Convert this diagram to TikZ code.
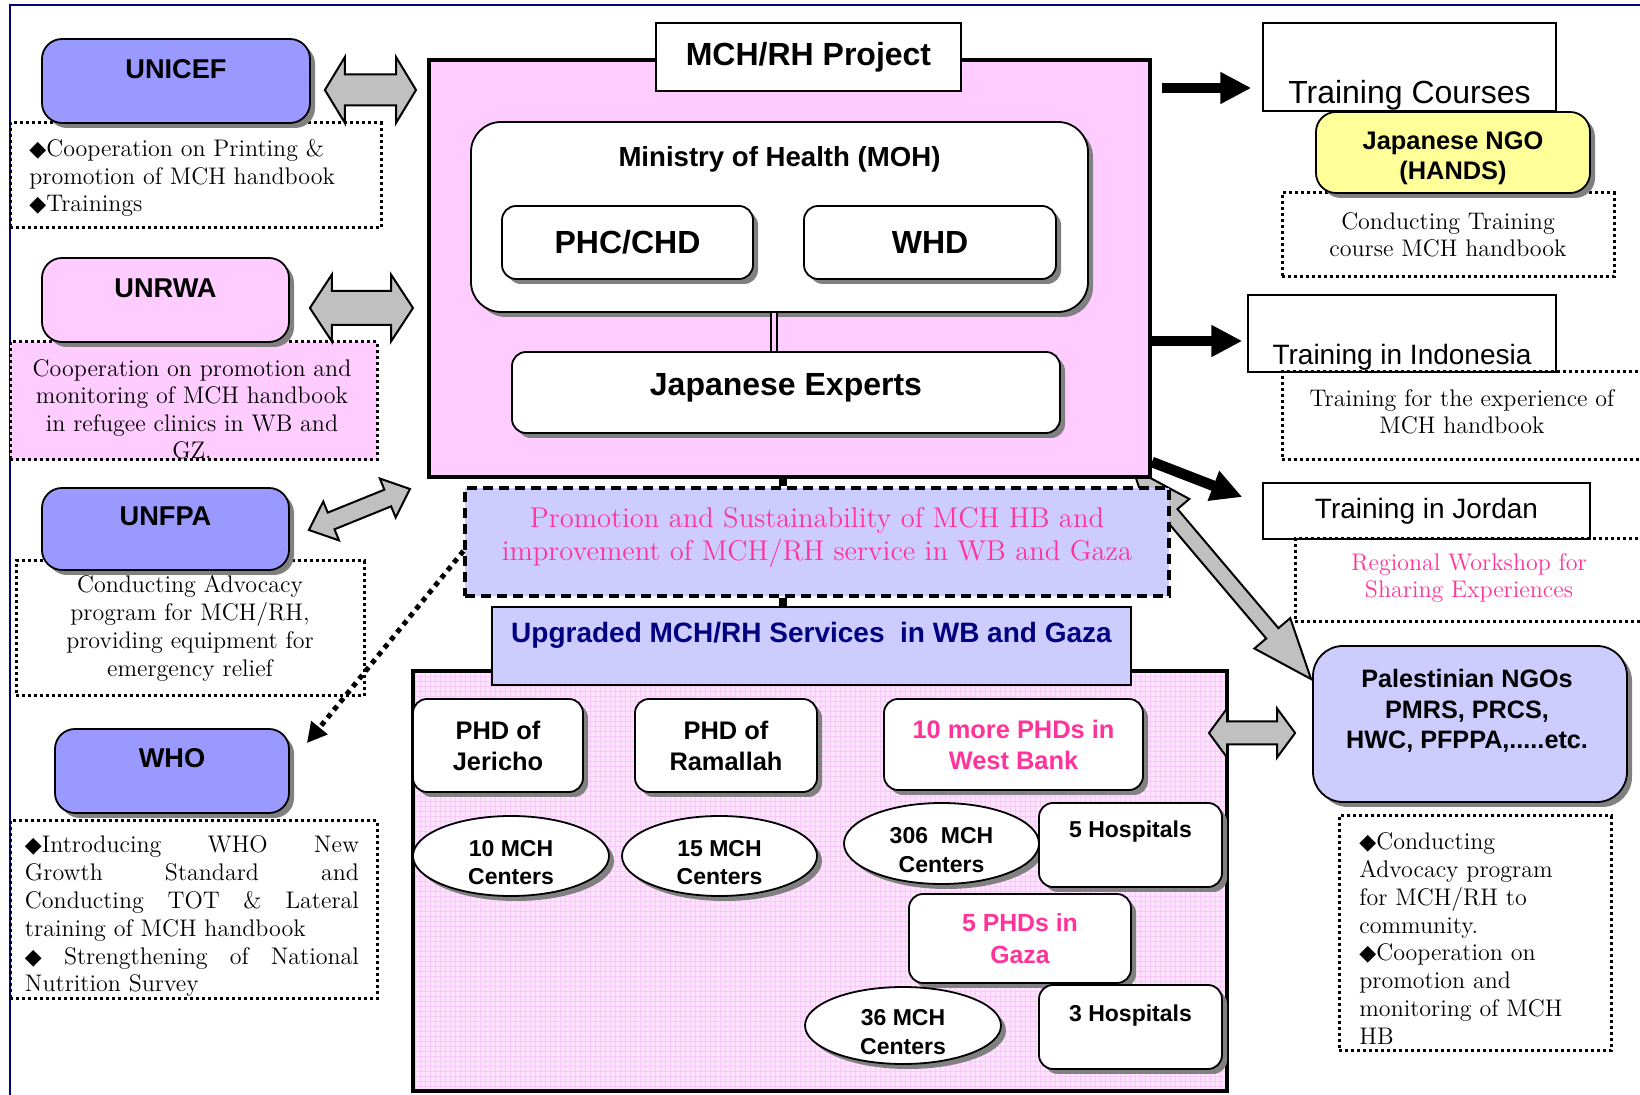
\documentclass[tikz,border=0pt]{standalone}
\usepackage{fontspec}
\newfontfamily\arial{Liberation Sans}
\newfontfamily\dejavu{DejaVu Sans}
\usetikzlibrary{positioning,calc,shadows,shapes.geometric,arrows.meta}
\definecolor{unblue}{RGB}{153,153,255}
\definecolor{unpink}{RGB}{255,204,255}
\definecolor{lilac}{RGB}{204,204,255}
\definecolor{ngoyellow}{RGB}{255,255,153}
\definecolor{hotpink}{RGB}{255,51,153}
\definecolor{navyblue}{RGB}{0,0,128}
\definecolor{gridpink}{RGB}{255,228,255}
\definecolor{gridline}{RGB}{248,200,248}
\definecolor{arrowgray}{RGB}{192,192,192}
\pgfdeclarelayer{back}
\pgfsetlayers{back,main}
\newcommand{\fsz}[2]{\fontsize{#1}{#2}\selectfont}
\newcommand{\dmd}{{\dejavu\fsz{11}{11}◆}}
% fat two-headed arrow: from, to, shaft half width, head half width, head length
\newcommand{\blockarrow}[5]{%
  \coordinate (bx1) at ($(#1)!#5!(#2)$);
  \coordinate (bx2) at ($(#2)!#5!(#1)$);
  \draw[fatgray] (#1) -- ($(bx1)!#4!-90:(#2)$) -- ($(bx1)!#3!-90:(#2)$)
    -- ($(bx2)!#3!90:(#1)$) -- ($(bx2)!#4!90:(#1)$) -- (#2)
    -- ($(bx2)!#4!-90:(#1)$) -- ($(bx2)!#3!-90:(#1)$)
    -- ($(bx1)!#3!90:(#2)$) -- ($(bx1)!#4!90:(#2)$) -- cycle;}
\tikzset{
  shadowed/.style={drop shadow={shadow xshift=2.5pt,shadow yshift=-2.5pt,fill=black!50,opacity=1}},
  orgbox/.style={draw, line width=0.9pt, rounded corners=10pt, inner sep=0pt, shadowed},
  unitbox/.style={draw, line width=0.9pt, rounded corners=7pt, fill=white, inner sep=0pt, align=center, shadowed},
  centre/.style={ellipse, draw, line width=0.9pt, fill=white, inner sep=0pt, shadowed},
  centrefont/.style={align=center, inner sep=0pt, font=\arial\bfseries\fsz{11.5}{14.2}},
  note/.style={draw, line width=1.5pt, dash pattern=on 1.5pt off 1.5pt, inner sep=0pt},
  plainbox/.style={draw, line width=0.7pt, fill=white, inner sep=0pt},
  notetext/.style={font=\fsz{12}{13.7}, align=center, inner sep=0pt},
  heading/.style={font=\arial\bfseries\fsz{13.6}{16}, inner sep=0pt},
  bigsans/.style={font=\arial\bfseries\fsz{16}{19}, inner sep=0pt},
  unitfont/.style={font=\arial\bfseries\fsz{12.7}{15.5}},
  smallsans/.style={font=\arial\bfseries\fsz{11.5}{14}, inner sep=0pt},
  trainfont/.style={font=\arial\fsz{#1}{#1}, inner sep=0pt},
  blackarrow/.style={line width=5.3pt, -{Triangle[length=15.5pt,width=15pt]}},
  dotarrow/.style={line width=2.5pt, dash pattern=on 2.5pt off 2.5pt, -{Triangle[length=10pt,width=10pt]}},
  fatgray/.style={draw, line width=1pt, fill=arrowgray, line join=miter},
  stem/.style={line width=4pt},
  svcgrid/.style={path picture={\draw[gridline, line width=0.25pt, step=2.5pt] (path picture bounding box.south west) grid (path picture bounding box.north east);}}
}

\begin{document}
\begin{tikzpicture}[x=0.5pt,y=0.5pt]
\useasboundingbox (0,0) rectangle (1640,-1095);
\clip (0,0) rectangle (1640,-1095);
\draw[navyblue, line width=0.8pt] (10,-1095) -- (10,-5) -- (1640,-5);

% partners on the left
\node[note, minimum width=185.5pt, minimum height=52.5pt] (unicefnote) at (195.5,-175.5) {};
\node[notetext, align=left, anchor=west] (unicefnotetext) at (29,-178) {\dmd Cooperation on Printing \&\\promotion of MCH handbook\\\dmd Trainings};
\node[orgbox, fill=unblue, minimum width=134pt, minimum height=42pt] (unicef) at (176,-81) {};
\node[heading] (uniceftext) at ([yshift=-15.5pt]unicef.north) {UNICEF};

\node[note, fill=unpink, minimum width=183.5pt, minimum height=59pt] (unrwanote) at (193.5,-401) {};
\node[notetext] (unrwanotetext) at (192,-409.5) {Cooperation on promotion and\\monitoring of MCH handbook\\in refugee clinics in WB and\\GZ.};
\node[orgbox, fill=unpink, minimum width=123.5pt, minimum height=42pt] (unrwa) at (165.5,-300) {};
\node[heading] (unrwatext) at ([yshift=-15.5pt]unrwa.north) {UNRWA};

\node[note, notetext, font=\fsz{12}{14.1}, minimum width=174pt, minimum height=67.5pt] (unfpanote) at (190,-628.5) {Conducting Advocacy\\program for MCH/RH,\\providing equipment for\\emergency relief};
\node[orgbox, fill=unblue, minimum width=123.5pt, minimum height=41pt] (unfpa) at (165.5,-529) {};
\node[heading] (unfpatext) at ([yshift=-14.5pt]unfpa.north) {UNFPA};

\node[note, minimum width=183.5pt, minimum height=89pt] (whonote) at (193.5,-910) {};
\node[notetext, align=left, font=\fsz{12}{13.9}] (whonotetext) at (192,-916.5) {\makebox[167pt][s]{\dmd Introducing WHO New}\\\makebox[167pt][s]{Growth Standard and}\\\makebox[167pt][s]{Conducting TOT \& Lateral}\\training of MCH handbook\\\makebox[167pt][s]{\dmd\ Strengthening of National}\\Nutrition Survey};
\node[orgbox, fill=unblue, minimum width=117pt, minimum height=42pt] (who) at (172,-771) {};
\node[heading] (whotext) at ([yshift=-15pt]who.north) {WHO};

% project box
\node[draw, line width=2pt, fill=unpink, minimum width=360.5pt, minimum height=208.5pt] (mch) at (789.5,-268.5) {};
\node[plainbox, bigsans, minimum width=152.5pt, minimum height=34pt] (mchtitle) at (808.5,-57) {MCH/RH Project};
\node[orgbox, fill=white, rounded corners=15pt, minimum width=308.5pt, minimum height=95pt] (moh) at (779.5,-217) {};
\node[font=\arial\bfseries\fsz{13.8}{16}, inner sep=0pt] (mohtext) at ([yshift=-19pt]moh.north) {Ministry of Health (MOH)};
\node[unitbox, bigsans, minimum width=125.5pt, minimum height=36.5pt] (phc) at (627.5,-242.5) {PHC/CHD};
\node[unitbox, bigsans, minimum width=126pt, minimum height=36.5pt] (whd) at (930,-242.5) {WHD};
\node[unitbox, minimum width=274pt, minimum height=40.5pt] (jexp) at (786,-392.5) {};
\node[bigsans] (jexptext) at ([yshift=2.25pt]jexp.center) {Japanese Experts};
\draw[line width=0.8pt, double=unpink, double distance=2pt] ([xshift=-2.75pt]moh.south) -- ([xshift=-2.75pt]moh.south |- jexp.north);

% goal and services
\node[draw, line width=1.6pt, dash pattern=on 5pt off 3pt, fill=lilac, minimum width=352pt, minimum height=54pt] (promo) at (817,-542) {};
\node[font=\fsz{14.3}{16.5}, text=hotpink, align=center, inner sep=0pt] (promotext) at (817,-537.5) {Promotion and Sustainability of MCH HB and\\improvement of MCH/RH service in WB and Gaza};
\node[draw, line width=2pt, fill=gridpink, svcgrid, minimum width=407pt, minimum height=210pt] (svc) at (820,-881) {};
\node[draw, line width=0.8pt, fill=lilac, minimum width=319.5pt, minimum height=39pt] (upg) at (811.5,-646) {};
\node[font=\arial\bfseries\fsz{14}{16}, text=navyblue, inner sep=0pt] (upgtext) at ([yshift=5.5pt]upg.center) {Upgraded MCH/RH Services\ \ in WB and Gaza};
\coordinate (spine) at ([xshift=-3.25pt]mch.south);
\draw[stem] (spine) -- (spine |- promo.north);
\draw[stem] (spine |- promo.south) -- (spine |- upg.north);

\node[unitbox, unitfont, minimum width=85pt, minimum height=46.5pt] (jericho) at (498,-745.5) {PHD of\\Jericho};
\node[unitbox, unitfont, minimum width=91pt, minimum height=46.5pt] (ramallah) at (726,-745.5) {PHD of\\Ramallah};
\node[unitbox, unitfont, text=hotpink, minimum width=129.5pt, minimum height=45.5pt] (morewb) at (1013.5,-744.5) {10 more PHDs in\\West Bank};
\node[centre, minimum width=98pt, minimum height=40pt] (mch10) at (511,-856) {};
\node[centrefont] (mch10text) at ([yshift=-3.25pt]mch10.center) {10 MCH\\Centers};
\node[centre, minimum width=97.5pt, minimum height=40pt] (mch15) at (719.5,-856) {};
\node[centrefont] (mch15text) at ([yshift=-3.25pt]mch15.center) {15 MCH\\Centers};
\node[centre, minimum width=97.5pt, minimum height=40.5pt] (mch306) at (941.5,-843.5) {};
\node[centrefont] (mch306text) at ([yshift=-3.25pt]mch306.center) {306\ \ MCH\\Centers};
\node[unitbox, minimum width=91.5pt, minimum height=42pt] (hosp5) at (1130.5,-845) {};
\node[smallsans] (hosp5text) at ([yshift=-14.5pt]hosp5.north) {5 Hospitals};
\node[unitbox, text=hotpink, font=\arial\bfseries\fsz{12.4}{15.7}, minimum width=111pt, minimum height=44.5pt] (gaza5) at (1020,-938.5) {5 PHDs in\\Gaza};
\node[centre, minimum width=98pt, minimum height=38.5pt] (mch36) at (903,-1025.5) {};
\node[centrefont] (mch36text) at ([yshift=-3.25pt]mch36.center) {36 MCH\\Centers};
\node[unitbox, minimum width=91.5pt, minimum height=42pt] (hosp3) at (1130.5,-1027) {};
\node[smallsans] (hosp3text) at ([yshift=-15.5pt]hosp3.north) {3 Hospitals};

% trainings on the right
\node[plainbox, minimum width=146.5pt, minimum height=44pt] (courses) at (1409.5,-67) {};
\node[trainfont=16] (coursestext) at ([yshift=-14pt]courses.center) {Training Courses};
\node[note, notetext, minimum width=166pt, minimum height=42pt] (handsnote) at (1448,-235) {Conducting Training\\course MCH handbook};
\node[orgbox, fill=ngoyellow, minimum width=137pt, minimum height=40.5pt] (hands) at (1453,-152.5) {};
\node[align=center, font=\arial\bfseries\fsz{12.7}{14.75}, inner sep=0pt] (handstext) at ([yshift=-3pt]hands.center) {Japanese NGO\\(HANDS)};

\node[plainbox, minimum width=154pt, minimum height=38.5pt] (indonesia) at (1402,-333.5) {};
\node[trainfont=14] (indonesiatext) at ([yshift=-11.75pt]indonesia.center) {Training in Indonesia};
\node[note, minimum width=199pt, minimum height=44pt] (indonesianote) at (1481,-416) {};
\node[notetext] (indonesianotetext) at (1462,-412) {Training for the experience of\\MCH handbook};

\node[plainbox, trainfont=14, minimum width=163.5pt, minimum height=28pt] (jordan) at (1426.5,-511) {Training in Jordan};
\node[note, minimum width=192.5pt, minimum height=41.5pt] (jordannote) at (1487.5,-580.5) {};
\node[notetext, text=hotpink] (jordannotetext) at (1469,-578) {Regional Workshop for\\Sharing Experiences};

\node[orgbox, fill=lilac, rounded corners=15pt, minimum width=157pt, minimum height=78pt] (pngo) at (1470,-724) {};
\node[align=center, font=\arial\bfseries\fsz{12.6}{15.25}, inner sep=0pt] (pngotext) at (1467,-711) {Palestinian NGOs\\PMRS, PRCS,\\HWC, PFPPA,.....etc.};
\node[note, minimum width=136pt, minimum height=117.5pt] (pngonote) at (1475,-933.5) {};
\node[notetext, align=left, anchor=west, font=\fsz{12}{13.9}] (pngonotetext) at (1359,-938.5) {\dmd Conducting\\Advocacy program\\for MCH/RH to\\community.\\\dmd Cooperation on\\promotion and\\monitoring of MCH\\HB};

% black arrows to the trainings
\coordinate (e1) at ([shift={(5pt,-15pt)}]mch.north east);
\draw[blackarrow] (e1) -- ([xshift=-5.5pt]e1 -| courses.west);
\coordinate (e2) at ([yshift=-3.75pt]indonesia.west);
\draw[blackarrow] (e2 -| mch.east) -- ([xshift=-2.5pt]e2);
\draw[blackarrow] ([yshift=8.5pt]mch.south east) -- ([shift={(-10pt,7pt)}]jordan.west);

% gray two-way arrows
\coordinate (ua) at ([shift={(7pt,-4.5pt)}]unicef.east);
\coordinate (ub) at ([xshift=-5.5pt]ua -| mch.west);
\blockarrow{ua}{ub}{7.75pt}{16.5pt}{10pt}
\coordinate (ra) at ([shift={(10pt,-4pt)}]unrwa.east);
\coordinate (rb) at ([xshift=-7pt]ra -| mch.west);
\blockarrow{ra}{rb}{8.5pt}{16.75pt}{11pt}
\coordinate (fa) at ([shift={(9.5pt,-0.5pt)}]unfpa.east);
\coordinate (fb) at ([shift={(-8.5pt,-5pt)}]mch.south west);
\blockarrow{fa}{fb}{4.5pt}{10.5pt}{12pt}
\coordinate (gb) at ([shift={(-8.5pt,-4.5pt)}]pngo.west);
\coordinate (ga) at ([xshift=-10pt]gb -| svc.east);
\blockarrow{ga}{gb}{5.75pt}{12.25pt}{9pt}
\begin{pgfonlayer}{back}
\coordinate (na) at ([shift={(-19pt,9pt)}]promo.north east);
\coordinate (nb) at ([shift={(-0.5pt,-17pt)}]pngo.north west);
\blockarrow{na}{nb}{4pt}{11.75pt}{30pt}
\end{pgfonlayer}

% dotted link to WHO
\draw[dotarrow] ([yshift=-4.5pt]promo.west) -- ([shift={(8.5pt,-7.5pt)}]who.north east);
\end{tikzpicture}
\end{document}
